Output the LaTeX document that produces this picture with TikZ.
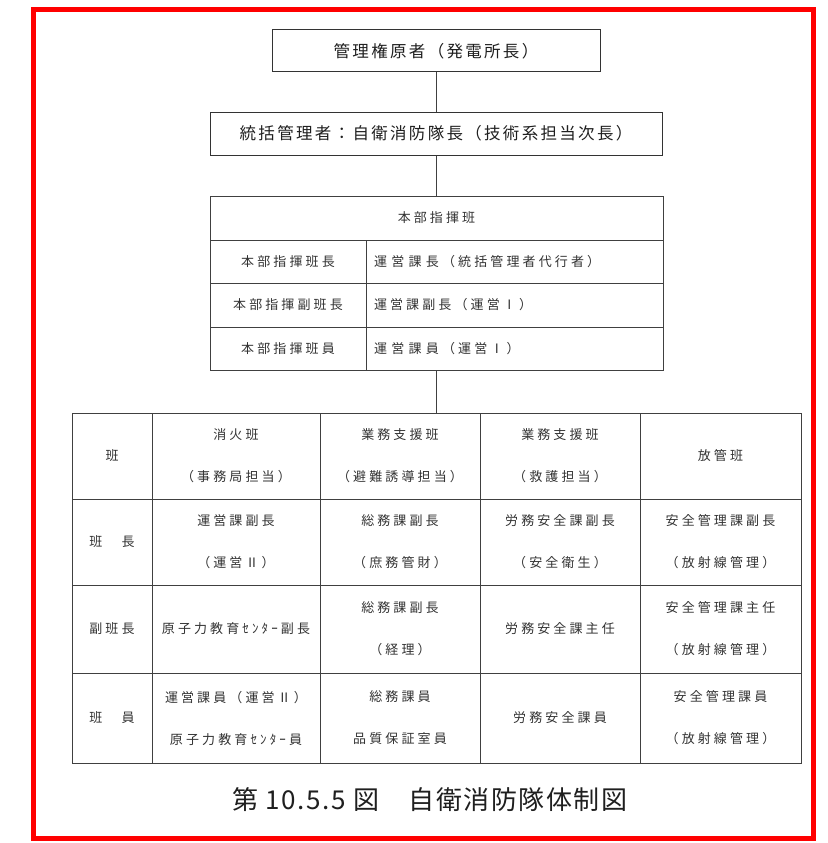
\documentclass[tikz,border=0pt]{standalone}
\usepackage{fontspec}
\setmainfont{Noto Sans CJK JP}
\newfontfamily\tblfont[LetterSpace=24]{Noto Sans CJK JP}
\newfontfamily\boxfont[LetterSpace=14]{Noto Sans CJK JP}
\newfontfamily\capfont[LetterSpace=6]{Noto Sans CJK JP}
\begin{document}
\begin{tikzpicture}[x=1pt,y=-1pt,
  frame/.style={draw=red, line width=5pt},
  topbox/.style={draw=black!80, line width=1pt, inner sep=0pt, text=black!88,
    font=\boxfont\fontsize{16.5}{20}\selectfont},
  cell/.style={draw=black!75, line width=1pt, inner sep=0pt, text=black!80, align=center,
    font=\tblfont\fontsize{13}{16}\selectfont},
  lcell/.style={cell, align=left, inner xsep=8pt, text width=281pt},
  conn/.style={draw=black!75, line width=1pt}]
\useasboundingbox (0,0) rectangle (827,843);
\fill[white] (0,0) rectangle (827,843);
\draw[frame] (33,10) rectangle (813,838);

% top boxes
\node[topbox, minimum width=328pt, minimum height=42pt] (top) at (436,51) {管理権原者（発電所長）};
\node[topbox, minimum width=452pt, minimum height=43pt] (boss) at (436,133.5) {統括管理者：自衛消防隊長（技術系担当次長）};

% headquarters table
\node[cell, minimum width=453pt, minimum height=44pt] (hq) at (436.5,218) {本部指揮班};
\node[cell, minimum width=156pt, minimum height=43pt] (hqL1) at (288,261.5) {本部指揮班長};
\node[lcell, minimum height=43pt] (hqR1) at (514.5,261.5) {運 営 課 長（統括管理者代行者）};
\node[cell, minimum width=156pt, minimum height=44pt] (hqL2) at (288,305) {本部指揮副班長};
\node[lcell, minimum height=44pt] (hqR2) at (514.5,305) {運営課副長（運営Ⅰ）};
\node[cell, minimum width=156pt, minimum height=43pt] (hqL3) at (288,348.5) {本部指揮班員};
\node[lcell, minimum height=43pt] (hqR3) at (514.5,348.5) {運 営 課 員（運営Ⅰ）};

% big table: header row
\node[cell, minimum width=80pt, minimum height=86pt] (h0) at (112,456) {班};
\node[cell, minimum width=168pt, minimum height=86pt] (h1) at (236,456) {消火班\\[26pt]（事務局担当）};
\node[cell, minimum width=160pt, minimum height=86pt] (h2) at (400,456) {業務支援班\\[26pt]（避難誘導担当）};
\node[cell, minimum width=160pt, minimum height=86pt] (h3) at (560,456) {業務支援班\\[26pt]（救護担当）};
\node[cell, minimum width=161pt, minimum height=86pt] (h4) at (720.5,456) {放管班};
% row: 班長
\node[cell, minimum width=80pt, minimum height=86pt] (a0) at (112,542) {班　長};
\node[cell, minimum width=168pt, minimum height=86pt] (a1) at (236,542) {運営課副長\\[26pt]（運営Ⅱ）};
\node[cell, minimum width=160pt, minimum height=86pt] (a2) at (400,542) {総務課副長\\[26pt]（庶務管財）};
\node[cell, minimum width=160pt, minimum height=86pt] (a3) at (560,542) {労務安全課副長\\[26pt]（安全衛生）};
\node[cell, minimum width=161pt, minimum height=86pt] (a4) at (720.5,542) {安全管理課副長\\[26pt]（放射線管理）};
% row: 副班長
\node[cell, minimum width=80pt, minimum height=88pt] (b0) at (112,629) {副班長};
\node[cell, minimum width=168pt, minimum height=88pt] (b1) at (236,629) {原子力教育ｾﾝﾀｰ副長};
\node[cell, minimum width=160pt, minimum height=88pt] (b2) at (400,629) {総務課副長\\[26pt]（経理）};
\node[cell, minimum width=160pt, minimum height=88pt] (b3) at (560,629) {労務安全課主任};
\node[cell, minimum width=161pt, minimum height=88pt] (b4) at (720.5,629) {安全管理課主任\\[26pt]（放射線管理）};
% row: 班員
\node[cell, minimum width=80pt, minimum height=90pt] (c0) at (112,718) {班　員};
\node[cell, minimum width=168pt, minimum height=90pt] (c1) at (236,718) {運営課員（運営Ⅱ）\\[26pt]原子力教育ｾﾝﾀｰ員};
\node[cell, minimum width=160pt, minimum height=90pt] (c2) at (400,718) {総務課員\\[26pt]品質保証室員};
\node[cell, minimum width=160pt, minimum height=90pt] (c3) at (560,718) {労務安全課員};
\node[cell, minimum width=161pt, minimum height=90pt] (c4) at (720.5,718) {安全管理課員\\[26pt]（放射線管理）};

% connectors
\draw[conn] (top.south) -- (boss.north);
\draw[conn] (boss.south) -- (boss.south |- hq.north);
\draw[conn] (boss.south |- hqR3.south) -- (boss.south |- h3.north);

% caption
\node[font=\capfont\fontsize{26}{30}\selectfont, text=black!88] (cap) at (430,800) {第 10.5.5 図　自衛消防隊体制図};
\end{tikzpicture}
\end{document}
